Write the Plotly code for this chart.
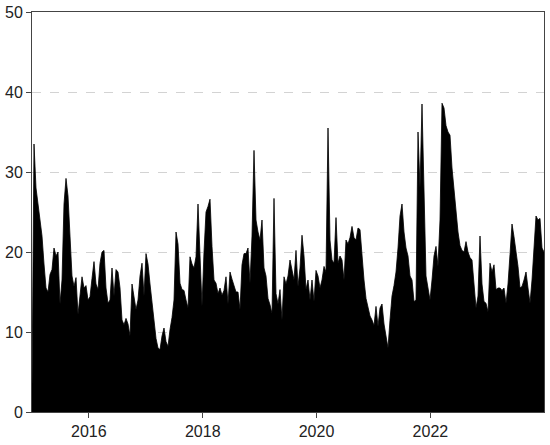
import pandas as pd
import plotly.graph_objects as go

# series values, evenly spaced from Jan 2015 to end 2023
vals_2015 = [3, 33.5, 28, 25.8, 24, 22, 18.5, 15.5, 15, 17.2, 17.8, 20.5, 19.5, 20,
             13.5, 16.5, 26, 29.2, 27, 22.5, 17, 15.7, 16.8, 12.2, 14.4, 16.9, 15.5,
             15.8, 14, 14.4, 16.7, 18.8, 16, 15.3, 18.6, 20, 20.2]
vals_2016 = [15.5, 13.6, 14, 18, 14.5, 17.8, 17.5, 15.5, 11.5, 10.9, 11.7, 11, 9.5, 16,
             14.3, 12.8, 14, 17, 18.6, 14.5, 19.8, 18.5, 16, 13.5, 11, 9.2, 8, 7.8,
             9.5, 10.5, 8.8, 8.2, 10.3, 11.8, 14, 22.5]
vals_2017 = [21, 16.1, 15.3, 15.2, 14, 13, 19.4, 18.5, 18, 19.4, 26, 19, 13.2, 20, 25,
             25.7, 26.6, 20.7, 16.5, 16.1, 14.8, 15.5, 14.6, 15.2, 16.9, 13.5, 17.5,
             16.6, 15.7, 15, 15, 12.8, 18.4, 19.8, 19.8, 20.5, 16.1]
vals_2018 = [22, 32.7, 24, 22.5, 21.5, 24, 18, 17, 14.2, 13.4, 12.3, 26.7, 14.8, 13.5,
             15.3, 11.5, 16.9, 16, 17, 19, 17.5, 16.5, 20.2, 15.7, 18, 22.1, 19.5, 15.3,
             16.5, 14, 16.5, 13.8, 17.7, 17, 15.5, 16.5]
vals_2020 = [18.2, 17.5, 35.5, 21.5, 19, 18.6, 24.3, 18.6, 19.5, 19, 16.5, 21.5, 21,
             21.8, 23.2, 21.8, 21.5, 23, 22.8, 19.5, 16.5, 14.2, 13, 12, 11.5, 10.8,
             13.2, 10.7, 13, 13.5, 11, 9.4, 8, 11.5, 14.5, 15.8, 17.5]
vals_2021 = [20.5, 24.5, 26, 22.5, 20.5, 19.5, 17, 16.5, 13.8, 14, 35, 28, 38.5, 27, 17,
             15.5, 14, 16.5, 19.5, 20.7, 18.2, 24, 38.6, 38, 35.8, 35, 34.6, 30.5, 27.5,
             25, 22.5, 20.8, 20.2, 20, 21.3, 20]
vals_2022 = [19.3, 19, 16.3, 13, 14.5, 22, 16, 13.8, 13.6, 12.5, 18.6, 17.5, 18.4, 15.3,
             15.5, 15.5, 15.2, 15.5, 13.6, 16, 19.7, 23.5, 21.9, 20, 18.2, 15.5, 15.7,
             16.5, 17.5, 15.5, 13.6, 16.5, 20.2, 24.5, 24, 24.2, 20.5, 20]

values = vals_2015 + vals_2016 + vals_2017 + vals_2018 + vals_2020 + vals_2021 + vals_2022
dates = pd.date_range("2015-01-01", "2023-12-31", periods=len(values))

y_ticks = [0, 10, 20, 30, 40, 50]

fig = go.Figure()
fig.add_trace(go.Scatter(x=dates, y=values, mode="lines", fill="tozeroy",
                         fillcolor="black", line=dict(color="black", width=0.8)))

axis_style = dict(showline=True, mirror=True, linecolor="#444", linewidth=1,
                  ticks="outside", ticklen=5, tickcolor="#444", zeroline=False,
                  automargin=False)

fig.update_layout(
    width=550, height=445,
    margin=dict(l=32, r=6, t=12, b=33),
    paper_bgcolor="white", plot_bgcolor="white",
    showlegend=False,
    font=dict(family="Liberation Sans, Arial, sans-serif", size=16, color="#222"),
    xaxis=dict(range=["2015-01-01", "2023-12-31"], dtick="M24", tick0="2016-01-01",
               tickformat="%Y", showgrid=False, **axis_style),
    yaxis=dict(range=[0, 50], tickvals=y_ticks, showgrid=True, gridcolor="#d3d3d3",
               griddash="dash", gridwidth=1, ticklabelstandoff=0, **axis_style),
)

# drop the default 8px page margin so the figure sits at the window corner
fig.write_html("out.html", config={"displayModeBar": False},
               post_script="document.body.style.margin='0px';")
